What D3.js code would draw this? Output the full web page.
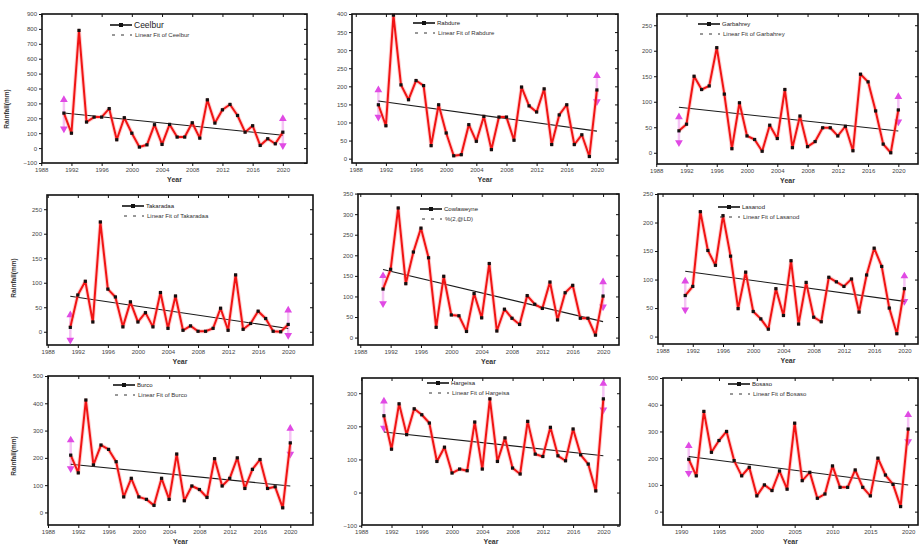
<!DOCTYPE html>
<html>
<head>
<meta charset="utf-8">
<script src="https://cdn.jsdelivr.net/npm/d3@7"></script>
<style>
  html, body { margin: 0; padding: 0; background: #fff; }
  svg { display: block; font-family: "Liberation Sans", Arial, sans-serif; }
</style>
</head>
<body>
<svg id="chart" width="919" height="544"></svg>
<script>
// Annual rainfall (mm), 1991-2020, per station
const years = [1991,1992,1993,1994,1995,1996,1997,1998,1999,2000,2001,2002,2003,2004,2005,
               2006,2007,2008,2009,2010,2011,2012,2013,2014,2015,2016,2017,2018,2019,2020];

const ceelbur    = [235,100,790,175,208,208,265,56,204,100,7,22,157,25,159,74,74,170,67,324,168,257,293,219,107,150,18,63,29,107];
const rabdure    = [149,91,397,204,163,216,202,36,149,71,8,11,94,48,117,25,115,115,51,198,146,129,193,39,121,149,39,66,6,190];
const garbahrey  = [43,56,150,124,131,206,115,8,98,33,26,3,54,28,124,10,72,12,22,49,49,33,52,4,154,139,82,17,0,84];
const takaradaa  = [9,75,103,20,224,87,71,10,61,20,39,10,80,7,73,3,12,1,1,7,48,3,116,5,17,42,27,1,0,15];
const cowlaweyne = [118,166,315,131,208,266,194,25,149,55,53,15,107,48,180,16,69,47,32,102,81,71,135,43,109,127,47,47,6,101];
const lasanod    = [72,88,219,151,125,212,141,49,113,44,31,13,84,37,133,22,95,34,26,104,96,88,101,43,108,155,123,50,5,84];
const burco      = [210,145,412,174,247,231,186,57,125,57,48,26,125,48,214,43,97,84,55,197,97,125,200,88,158,194,88,94,17,255];
const hargeisa   = [232,131,268,175,253,235,210,94,137,59,71,66,213,71,283,94,165,74,56,215,116,109,197,111,96,192,114,86,5,283];
const bosaso     = [196,134,375,222,266,300,191,134,166,59,100,79,152,84,331,116,147,50,66,171,91,91,156,91,59,200,137,102,19,309];

// Up / down arrow markers: [first year up, first year down, last year up, last year down]
const ceelburArrows    = [325,130,197,18];
const rabdureArrows    = [190,115,229,158];
const garbahreyArrows  = [70,20,110,61];
const takaradaaArrows  = [34,-17,44,-7];
const cowlaweyneArrows = [150,83,135,75];
const lasanodArrows    = [97,47,106,62];
const burcoArrows      = [265,161,308,214];
const hargeisaArrows   = [276,195,329,250];
const bosasoArrows     = [246,144,362,262];

// Legend texts
const seriesNames = ["Ceelbur","Rabdure","Garbahrey","Takaradaa","Cowlaweyne","Lasanod","Burco","Hargeisa","Bosaso"];
const fitNames = ["Linear Fit of Ceelbur","Linear Fit of Rabdure","Linear Fit of Garbahrey",
                  "Linear Fit of Takaradaa","%(2,@LD)","Linear Fit of Lasanod",
                  "Linear Fit of Burco","Linear Fit of Hargeisa","Linear Fit of Bosaso"];

// Tick values
const xTicks4 = [1988,1992,1996,2000,2004,2008,2012,2016,2020];
const xTicks5 = [1990,1995,2000,2005,2010,2015,2020];
const yTicks900 = [-100,0,100,200,300,400,500,600,700,800,900];
const yTicks400 = [0,50,100,150,200,250,300,350,400];
const yTicks250 = [0,50,100,150,200,250];
const yTicks350 = [0,50,100,150,200,250,300,350];
const yTicks500 = [0,100,200,300,400,500];
const yTicks300 = [-100,0,100,200,300];

// Panel layout: frame = [left, top, right, bottom]
const panels = [
  {values: ceelbur,    arrows: ceelburArrows,    frame: [42,14,307,163],   xDomain: [1988.1,2023.2], yDomain: [-100,900], xTicks: xTicks4, yTicks: yTicks900, legend: [110,25], big: true,  yLabel: [9,109]},
  {values: rabdure,    arrows: rabdureArrows,    frame: [352,14,618,163],  xDomain: [1987.5,2022.8], yDomain: [-12,400],  xTicks: xTicks4, yTicks: yTicks400, legend: [413,23]},
  {values: garbahrey,  arrows: garbahreyArrows,  frame: [657,14,918,164],  xDomain: [1988.1,2022.6], yDomain: [-22,272],  xTicks: xTicks4, yTicks: yTicks250, legend: [698,24]},
  {values: takaradaa,  arrows: takaradaaArrows,  frame: [47,195,313,345],  xDomain: [1987.9,2023.3], yDomain: [-27,279],  xTicks: xTicks4, yTicks: yTicks250, legend: [122,206], yLabel: [16,278]},
  {values: cowlaweyne, arrows: cowlaweyneArrows, frame: [358,194,619,345], xDomain: [1987.7,2022.1], yDomain: [-18,349],  xTicks: xTicks4, yTicks: yTicks350, legend: [420,209]},
  {values: lasanod,    arrows: lasanodArrows,    frame: [658,194,918,344], xDomain: [1987.4,2021.8], yDomain: [-13,250],  xTicks: xTicks4, yTicks: yTicks250, legend: [718,207]},
  {values: burco,      arrows: burcoArrows,      frame: [48,376,313,525],  xDomain: [1988.0,2023.0], yDomain: [-46,500],  xTicks: xTicks4, yTicks: yTicks500, legend: [113,385], yLabel: [16,456]},
  {values: hargeisa,   arrows: hargeisaArrows,   frame: [362,378,620,525], xDomain: [1988.1,2022.2], yDomain: [-98,346],  xTicks: xTicks4, yTicks: yTicks300, legend: [427,383]},
  {values: bosaso,     arrows: bosasoArrows,     frame: [663,378,918,525], xDomain: [1987.6,2021.3], yDomain: [-50,500],  xTicks: xTicks5, yTicks: yTicks500, legend: [728,384]}
];

const svg = d3.select("#chart");

// Ordinary least-squares trend of a series against the years
function linearFit(xs, ys) {
  const mx = d3.mean(xs), my = d3.mean(ys);
  let sxy = 0, sxx = 0;
  xs.forEach((xv, i) => { sxy += (xv - mx) * (ys[i] - my); sxx += (xv - mx) * (xv - mx); });
  const b = sxy / sxx;
  return xv => my + b * (xv - mx);
}

panels.forEach((p, i) => {
  const [L, T, R, B] = p.frame;
  const x = d3.scaleLinear().domain(p.xDomain).range([L, R]);
  const y = d3.scaleLinear().domain(p.yDomain).range([B, T]);
  const g = svg.append("g");

  // axes on all four sides, labels on bottom and left only
  const axB = g.append("g").attr("transform", `translate(0,${B})`)
    .call(d3.axisBottom(x).tickValues(p.xTicks).tickFormat(d3.format("d")).tickSize(3).tickPadding(2));
  const axT = g.append("g").attr("transform", `translate(0,${T})`)
    .call(d3.axisTop(x).tickValues(p.xTicks).tickFormat("").tickSize(-3));
  const axL = g.append("g").attr("transform", `translate(${L},0)`)
    .call(d3.axisLeft(y).tickValues(p.yTicks).tickFormat(d3.format("d")).tickSize(3).tickPadding(2));
  const axR = g.append("g").attr("transform", `translate(${R},0)`)
    .call(d3.axisRight(y).tickValues(p.yTicks).tickFormat("").tickSize(-3));
  [axB, axT, axL, axR].forEach(a => {
    a.select(".domain").remove();
    a.selectAll(".tick line").attr("stroke", "#111").attr("stroke-width", 1);
    a.selectAll(".tick text").attr("font-size", 6).attr("fill", "#444");
  });

  // frame
  g.append("rect").attr("x", L).attr("y", T).attr("width", R - L).attr("height", B - T)
    .attr("fill", "none").attr("stroke", "#111").attr("stroke-width", 1.6);

  // arrow markers at first and last year
  const a = p.arrows;
  const pairs = [[years[0], a[0], a[1]], [years[years.length - 1], a[2], a[3]]];
  pairs.forEach(([yr, up, dn]) => {
    g.append("line").attr("x1", x(yr)).attr("x2", x(yr)).attr("y1", y(up)).attr("y2", y(dn))
      .attr("stroke", "#f4b0f2").attr("stroke-width", 2.5).attr("opacity", 0.75);
    g.append("path").attr("d", d3.symbol(d3.symbolTriangle, 26)())
      .attr("transform", `translate(${x(yr)},${y(up)})`).attr("fill", "#e04ae4");
    g.append("path").attr("d", d3.symbol(d3.symbolTriangle, 26)())
      .attr("transform", `translate(${x(yr)},${y(dn)}) rotate(180)`).attr("fill", "#e04ae4");
  });

  // linear fit
  const fit = linearFit(years, p.values);
  const x0 = years[0], x1 = years[years.length - 1];
  g.append("line").attr("x1", x(x0)).attr("y1", y(fit(x0))).attr("x2", x(x1)).attr("y2", y(fit(x1)))
    .attr("stroke", "#1a1a1a").attr("stroke-width", 1.1);

  // rainfall series
  const line = d3.line().x((d, k) => x(years[k])).y(d => y(d));
  g.append("path").datum(p.values).attr("d", line).attr("fill", "none")
    .attr("stroke", "#ff8a8a").attr("stroke-width", 4).attr("opacity", 0.4).attr("stroke-linejoin", "round");
  g.append("path").datum(p.values).attr("d", line).attr("fill", "none")
    .attr("stroke", "#f01414").attr("stroke-width", 2).attr("stroke-linejoin", "round");
  g.selectAll("rect.pt").data(p.values).enter().append("rect").attr("class", "pt")
    .attr("x", (d, k) => x(years[k]) - 1.6).attr("y", d => y(d) - 1.6)
    .attr("width", 3.2).attr("height", 3.2).attr("fill", "#111");

  // legend
  const [lx, ly] = p.legend;
  const lg = g.append("g");
  lg.append("line").attr("x1", lx).attr("x2", lx + 22).attr("y1", ly).attr("y2", ly)
    .attr("stroke", "#111").attr("stroke-width", 1.6);
  lg.append("rect").attr("x", lx + 9).attr("y", ly - 2).attr("width", 4).attr("height", 4).attr("fill", "#111");
  lg.append("text").attr("x", lx + 24).attr("y", ly + (p.big ? 3 : 2))
    .attr("font-size", p.big ? 8.5 : 6).attr("fill", "#222").text(seriesNames[i]);
  lg.append("line").attr("x1", lx + 2).attr("x2", lx + 22).attr("y1", ly + 10).attr("y2", ly + 10)
    .attr("stroke", "#333").attr("stroke-width", 1).attr("stroke-dasharray", "3,6");
  lg.append("text").attr("x", lx + 25).attr("y", ly + 12)
    .attr("font-size", 6).attr("fill", "#333").text(fitNames[i]);

  // axis titles
  g.append("text").attr("x", (L + R) / 2).attr("y", B + 19).attr("text-anchor", "middle")
    .attr("font-size", 7).attr("font-weight", "bold").attr("fill", "#333").text("Year");
  if (p.yLabel) {
    g.append("text").attr("transform", `translate(${p.yLabel[0]},${p.yLabel[1]}) rotate(-90)`)
      .attr("text-anchor", "middle").attr("font-size", 6.5).attr("font-weight", "bold")
      .attr("fill", "#333").text("Rainfall(mm)");
  }
});
</script>
</body>
</html>
